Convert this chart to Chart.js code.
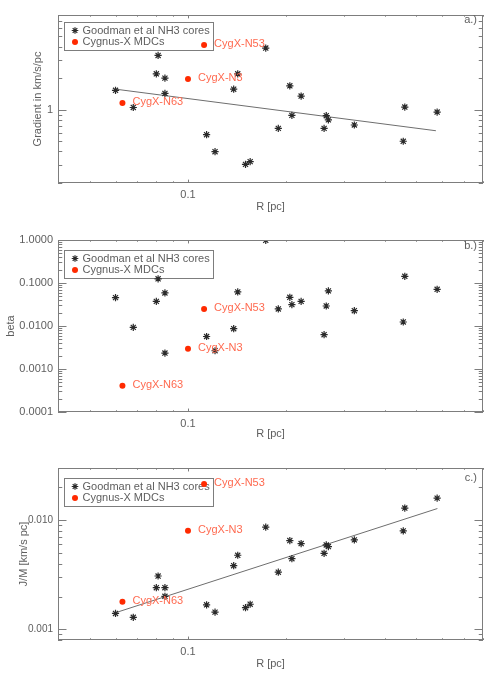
<!DOCTYPE html>
<html>
<head>
<meta charset="utf-8">
<title>Velocity gradients of cores vs. size</title>
<script src="https://cdn.jsdelivr.net/npm/chart.js@4.4.1/dist/chart.umd.min.js"></script>
<style>
  html, body { margin: 0; padding: 0; background: #fff; }
  #wrap { position: relative; width: 490px; height: 674px; }
  canvas { position: absolute; left: 0; }
</style>
</head>
<body>
<div id="wrap">
  <canvas id="panelA" width="490" height="224" style="top:0"></canvas>
  <canvas id="panelB" width="490" height="222" style="top:224px"></canvas>
  <canvas id="panelC" width="490" height="228" style="top:446px"></canvas>
</div>
<script>
// Goodman et al NH3 cores (R in pc)
const coreR = [0.060, 0.068, 0.080, 0.081, 0.085, 0.085, 0.114, 0.121, 0.138, 0.142, 0.150, 0.155,
               0.173, 0.189, 0.205, 0.208, 0.222, 0.261, 0.265, 0.269, 0.323, 0.456, 0.461, 0.579];
const coreGradient = [1.53, 1.05, 2.2, 3.29, 2.0, 1.43, 0.578, 0.398, 1.57, 2.2, 0.301, 0.32,
                      3.87, 0.664, 1.69, 0.883, 1.35, 0.664, 0.877, 0.80, 0.715, 0.50, 1.06, 0.95];
const coreBeta = [0.0457, 0.0093, 0.0374, 0.125, 0.0588, 0.00235, 0.0057, 0.00266, 0.00865, 0.062, null, null,
                  0.98, 0.0249, 0.0464, 0.0314, 0.0374, 0.00627, 0.0292, 0.0655, 0.0227, 0.0124, 0.143, 0.0713];
const coreJM = [0.0014, 0.00129, 0.00241, 0.00308, 0.00241, 0.00201, 0.00168, 0.00144, 0.00383, 0.00477, 0.00158, 0.0017,
                0.00863, 0.00334, 0.0065, 0.00444, 0.0061, 0.00497, 0.00593, 0.00573, 0.0066, 0.00798, 0.0129, 0.0159];

// Cygnus-X MDCs
const mdcNames = ['CygX-N63', 'CygX-N3', 'CygX-N53'];
const mdcR = [0.063, 0.100, 0.112];
const mdcGradient = [1.16, 1.96, 4.13];
const mdcBeta = [0.000406, 0.00296, 0.0249];
const mdcJM = [0.00179, 0.00798, 0.0214];

// fitted power laws
const fitGradR = [0.060, 0.574];
const fitGrad = [1.57, 0.63];
const fitJMR = [0.0595, 0.58];
const fitJM = [0.00141, 0.01277];

// tick labels
const xLabelVals = [0.1];
const xLabels = ['0.1'];
const gradLabelVals = [1];
const gradLabels = ['1'];
const betaLabelVals = [1, 0.1, 0.01, 0.001, 0.0001];
const betaLabels = ['1.0000', '0.1000', '0.0100', '0.0010', '0.0001'];
const jmLabelVals = [0.01, 0.001];
const jmLabels = ['0.010', '0.001'];

const AXIS = '#7d7d7d';
const TEXT = '#5e5e5e';
const STAR = '#2a2a2a';
const RED = '#ff2a00';
const RED_TEXT = '#ff6a50';
const FONT = "'Liberation Sans', Arial, sans-serif";

// every 1..9 x 10^n tick inside [min, max]
function logTicks(min, max) {
  const out = [];
  for (let e = Math.floor(Math.log10(min)); e <= Math.ceil(Math.log10(max)); e++) {
    for (let k = 1; k <= 9; k++) {
      const v = Number((k * Math.pow(10, e)).toPrecision(6));
      if (v >= min * 0.999 && v <= max * 1.001) out.push({ value: v, major: k === 1 });
    }
  }
  return out;
}

function labelFor(v, vals, texts) {
  const i = vals.findIndex(t => Math.abs(t - v) / t < 1e-6);
  return i < 0 ? '' : texts[i];
}

// IDL-style box: inward ticks on all sides, legend, point labels, panel tag
const idlFrame = {
  id: 'idlFrame',
  beforeDatasetsDraw(chart, args, p) {
    const { ctx, chartArea: a } = chart;
    const bx = a.left + 6, by = a.top + p.legendTop;
    ctx.save();
    ctx.strokeStyle = AXIS;
    ctx.lineWidth = 1;
    ctx.strokeRect(bx + 0.5, by + 0.5, 149, 28);
    // asterisk marker
    const sx = bx + 11, sy = by + 8.5, r = 3.3;
    ctx.strokeStyle = STAR;
    ctx.lineWidth = 1.2;
    ctx.beginPath();
    ctx.moveTo(sx - r, sy); ctx.lineTo(sx + r, sy);
    ctx.moveTo(sx, sy - r); ctx.lineTo(sx, sy + r);
    ctx.moveTo(sx - r * 0.7, sy - r * 0.7); ctx.lineTo(sx + r * 0.7, sy + r * 0.7);
    ctx.moveTo(sx - r * 0.7, sy + r * 0.7); ctx.lineTo(sx + r * 0.7, sy - r * 0.7);
    ctx.stroke();
    ctx.fillStyle = RED;
    ctx.beginPath();
    ctx.arc(sx, by + 20, 3, 0, Math.PI * 2);
    ctx.fill();
    ctx.fillStyle = TEXT;
    ctx.font = '11px ' + FONT;
    ctx.textBaseline = 'middle';
    ctx.textAlign = 'left';
    ctx.fillText(chart.data.datasets[0].label, bx + 18.5, sy);
    ctx.fillText(chart.data.datasets[1].label, bx + 18.5, by + 20);
    ctx.restore();
  },
  afterDraw(chart, args, p) {
    const { ctx, chartArea: a, scales } = chart;
    ctx.save();
    ctx.strokeStyle = AXIS;
    ctx.lineWidth = 1;
    ctx.strokeRect(a.left + 0.5, a.top + 0.5, a.width - 1, a.height - 1);

    const xLen = 0.02 * a.height, yLen = 0.02 * a.width;
    ctx.beginPath();
    scales.x.ticks.forEach(t => {
      const px = Math.round(scales.x.getPixelForValue(t.value)) + 0.5;
      const l = t.major ? xLen : xLen / 2;
      ctx.moveTo(px, a.bottom); ctx.lineTo(px, a.bottom - l);
      ctx.moveTo(px, a.top); ctx.lineTo(px, a.top + l);
    });
    scales.y.ticks.forEach(t => {
      const py = Math.round(scales.y.getPixelForValue(t.value)) + 0.5;
      const l = t.major ? yLen : yLen / 2;
      ctx.moveTo(a.left, py); ctx.lineTo(a.left + l, py);
      ctx.moveTo(a.right, py); ctx.lineTo(a.right - l, py);
    });
    ctx.stroke();

    // MDC names beside the red points
    ctx.font = '11px ' + FONT;
    ctx.textBaseline = 'middle';
    ctx.textAlign = 'left';
    ctx.fillStyle = RED_TEXT;
    chart.getDatasetMeta(1).data.forEach((pt, i) => {
      ctx.fillText(mdcNames[i], pt.x + 10, pt.y - 1);
    });

    ctx.fillStyle = TEXT;
    ctx.textAlign = 'right';
    ctx.fillText(p.tag, a.right - 6, a.top + p.tagY);
    ctx.restore();
  }
};

function makePanel(id, p) {
  const cores = coreR.map((r, i) => ({ x: r, y: p.cores[i] })).filter(d => d.y != null);
  const mdcs = mdcR.map((r, i) => ({ x: r, y: p.mdcs[i] }));
  const datasets = [
    {
      label: 'Goodman et al NH3 cores',
      data: cores,
      pointStyle: 'star',
      pointRadius: 3.6,
      pointBorderColor: STAR,
      pointBorderWidth: 1.2,
      showLine: false
    },
    {
      label: 'Cygnus-X MDCs',
      data: mdcs,
      pointStyle: 'circle',
      pointRadius: 3,
      pointBackgroundColor: RED,
      pointBorderColor: RED,
      pointBorderWidth: 0,
      showLine: false
    }
  ];
  if (p.fitR) {
    datasets.push({
      label: 'fit',
      data: p.fitR.map((r, i) => ({ x: r, y: p.fitY[i] })),
      showLine: true,
      borderColor: '#6e6e6e',
      borderWidth: 1,
      pointRadius: 0,
      fill: false
    });
  }

  new Chart(document.getElementById(id), {
    type: 'scatter',
    data: { datasets },
    options: {
      responsive: false,
      animation: false,
      events: [],
      layout: { padding: { top: p.padTop, right: 7, left: 0, bottom: 0 } },
      plugins: {
        legend: { display: false },
        tooltip: { enabled: false },
        idlFrame: { tag: p.tag, tagY: p.tagY, legendTop: p.legendTop }
      },
      scales: {
        x: {
          type: 'logarithmic',
          min: 0.04,
          max: 0.8,
          bounds: 'data',
          grid: { display: false, drawTicks: false },
          border: { display: false },
          afterBuildTicks: s => { s.ticks = logTicks(0.04, 0.8); },
          afterFit: s => { s.height = p.xHeight; },
          ticks: {
            autoSkip: false,
            maxRotation: 0,
            padding: 5,
            color: TEXT,
            font: { family: FONT, size: 11 },
            callback: v => labelFor(v, xLabelVals, xLabels)
          },
          title: {
            display: true,
            text: 'R [pc]',
            color: TEXT,
            font: { family: FONT, size: 11 },
            padding: { top: 0, bottom: p.xTitlePad }
          }
        },
        y: {
          type: 'logarithmic',
          min: p.yMin,
          max: p.yMax,
          bounds: 'data',
          grid: { display: false, drawTicks: false },
          border: { display: false },
          afterBuildTicks: s => { s.ticks = logTicks(p.yMin, p.yMax); },
          afterFit: s => { s.width = 58; },
          ticks: {
            autoSkip: false,
            padding: 5,
            color: TEXT,
            font: { family: FONT, size: p.yTickSize },
            callback: v => labelFor(v, p.labelVals, p.labels)
          },
          title: {
            display: true,
            text: p.yTitle,
            color: TEXT,
            font: { family: FONT, size: 11 },
            padding: { top: p.yTitlePad, bottom: 0 }
          }
        }
      }
    },
    plugins: [idlFrame]
  });
}

makePanel('panelA', {
  cores: coreGradient, mdcs: mdcGradient, fitR: fitGradR, fitY: fitGrad,
  yMin: 0.2, yMax: 8, labelVals: gradLabelVals, labels: gradLabels, yTickSize: 11,
  yTitle: 'Gradient in km/s/pc', yTitlePad: 31,
  padTop: 15, xHeight: 41, xTitlePad: 10, tag: 'a.)', tagY: 5, legendTop: 7
});

makePanel('panelB', {
  cores: coreBeta, mdcs: mdcBeta,
  yMin: 0.0001, yMax: 1, labelVals: betaLabelVals, labels: betaLabels, yTickSize: 11,
  yTitle: 'beta', yTitlePad: 4,
  padTop: 16, xHeight: 34, xTitlePad: 5, tag: 'b.)', tagY: 6, legendTop: 10
});

makePanel('panelC', {
  cores: coreJM, mdcs: mdcJM, fitR: fitJMR, fitY: fitJM,
  yMin: 0.0008, yMax: 0.03, labelVals: jmLabelVals, labels: jmLabels, yTickSize: 10,
  yTitle: 'J/M [km/s pc]', yTitlePad: 17,
  padTop: 22, xHeight: 34, xTitlePad: 3, tag: 'c.)', tagY: 10, legendTop: 10
});
</script>
</body>
</html>
